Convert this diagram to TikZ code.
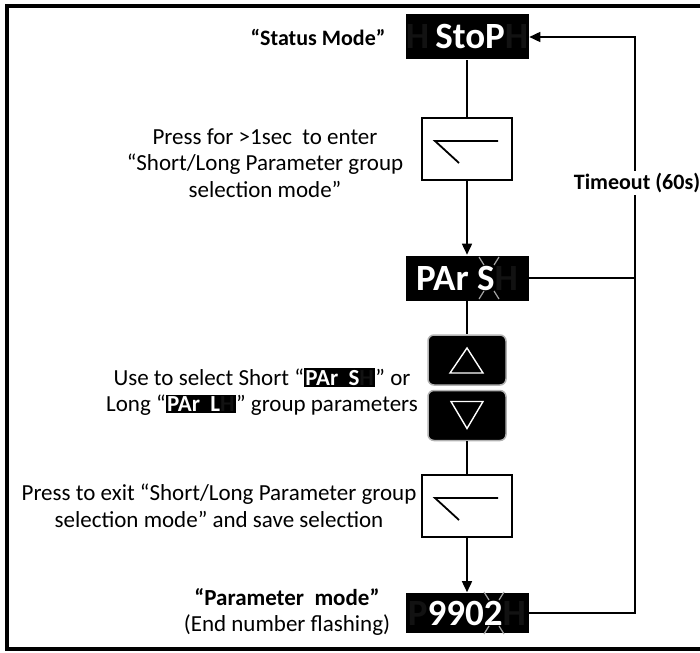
\documentclass[tikz,border=0pt]{standalone}
\usepackage{fontspec}
\setmainfont{Carlito}
\usetikzlibrary{arrows.meta,positioning}

\definecolor{ghost}{gray}{0.07}
\newcommand{\ghostch}[1]{\textcolor{ghost}{#1}}
\newcommand{\inlinedisp}[1]{{\setlength{\fboxsep}{1.5pt}\colorbox{black}{\bfseries\textcolor{white}{#1}\ghostch{H}}}}
% short grey strokes round a flashing digit
\newcommand{\flashmark}[1]{%
  \draw[flash] ([shift={(-10,-21)}]#1) -- ++(5,8);
  \draw[flash] ([shift={(10,-21)}]#1) -- ++(-5,8);
  \draw[flash] ([shift={(-10,21)}]#1) -- ++(5,-8);
  \draw[flash] ([shift={(10,21)}]#1) -- ++(-5,-8);}

\begin{document}
\begin{tikzpicture}[x=1pt, y=-1pt, >={Triangle[length=11pt,width=10pt]}, line width=1.6pt,
  display/.style={fill=black, text=white, font=\fontsize{37}{37}\selectfont\bfseries, minimum width=123pt, minimum height=45pt, inner sep=0pt},
  switchbox/.style={draw, line width=2.4pt, minimum width=90pt, minimum height=62pt},
  button/.style={fill=black, draw=gray!60, line width=1.5pt, rounded corners=6pt, minimum width=78pt, minimum height=50pt},
  note/.style={align=center, font=\fontsize{23}{26.5}\selectfont},
  flash/.style={gray!70, line width=1.2pt}]

	\useasboundingbox (0,0) rectangle (700,652);
	\draw[line width=3.5pt] (700,6) -- (7,6) -- (7,649) -- (700,649);

	\node[display] (stop) at (467,37) {\ghostch{H}\,StoP\ghostch{H}};
	\node[switchbox] (sw1) at (467,149) {};
	\node[display] (par) at (467,278) {PAr S\ghostch{H}};
	\node[button] (up) at (467,360) {};
	\node[button, below=4pt of up] (down) {};
	\node[switchbox] (sw2) at (467,506) {};
	\node[display, minimum height=40pt] (val) at (467,613) {\ghostch{P}9902\ghostch{H}};
	\coordinate (rt) at (635,0);
	\coordinate (sflash) at (489,278);
	\coordinate (dflash) at (494,613);

	\foreach \s in {sw1,sw2}
		\draw[line width=1.8pt] ([shift={(31,-8)}]\s.center) -- ++(-63,0) -- ++(24,22);

	\draw[white, line width=1.4pt] ([shift={(0,-12)}]up.center) -- ++(-17,25) -- ++(33,0) -- cycle;
	\draw[white, line width=1.4pt] ([shift={(0,13)}]down.center) -- ++(-16,-27) -- ++(32,0) -- cycle;

	\flashmark{sflash}
	\flashmark{dflash}

	\draw (stop.south) -- (sw1.north);
	\draw[->] (sw1.south) -- (par.north);
	\draw (par.south) -- (up.north);
	\draw (down.south) -- (sw2.north);
	\draw[->] (sw2.south) -- (val.north);
	\draw (par.east) -- (rt |- par.east);
	\draw[->] (val.east) -| (rt |- stop.east) -- (stop.east);

	\node[fill=white, inner sep=2pt, font=\bfseries\fontsize{22}{26}\selectfont] (tmo) at (637,183) {Timeout (60s)};

	\node[font=\bfseries\fontsize{22}{26}\selectfont] (smode) at (318,37) {“Status Mode”};
	\node[note] (enter) at (265,163) {Press for >1sec\ \ to enter\\“Short/Long Parameter group\\selection mode”};
	\node[note] (select) at (262,392) {Use to select Short “\inlinedisp{PAr\ \ S}” or\\Long “\inlinedisp{PAr\ \ L}” group parameters};
	\node[note] (exit) at (219,506) {Press to exit “Short/Long Parameter group\\selection mode” and save selection};
	\node[note] (pmode) at (287,612) {\textbf{“Parameter\ \ mode”}\\(End number flashing)};

\end{tikzpicture}
\end{document}
